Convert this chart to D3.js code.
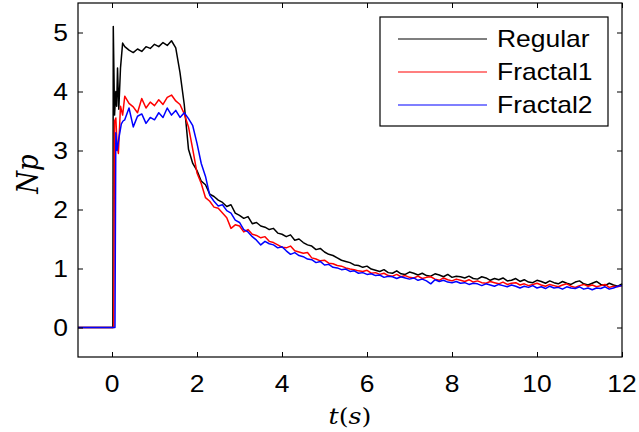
<!DOCTYPE html>
<html>
<head>
<meta charset="utf-8">
<script src="https://cdnjs.cloudflare.com/ajax/libs/d3/7.8.5/d3.min.js"></script>
<style>
  body { margin: 0; background: #fff; }
  text { font-family: "Liberation Sans", Arial, sans-serif; }
</style>
</head>
<body>
<script>
// tick labels
var xTicks = [0, 2, 4, 6, 8, 10, 12];
var yTicks = [0, 1, 2, 3, 4, 5];
var names = ["Regular", "Fractal1", "Fractal2"];
var colors = ["#000000", "#ff0000", "#0000ff"];

// start-up part of each run: [t, Np]
var regularHead = [[-0.8, 0], [0.02, 0], [0.03, 5.1], [0.06, 3.6], [0.09, 4.0], [0.11, 3.75], [0.13, 4.4], [0.16, 3.7], [0.2, 4.4], [0.25, 4.82]];
var fractal1Head = [[-0.8, 0], [0.04, 0], [0.06, 3.5], [0.09, 3.55], [0.12, 3.1], [0.15, 2.95], [0.2, 3.75], [0.25, 3.6]];
var fractal2Head = [[-0.8, 0], [0.07, 0], [0.09, 3.3], [0.12, 3.0], [0.16, 3.2], [0.22, 3.45], [0.26, 3.5]];

// rest of each run, sampled every 0.1 s from t = 0.3 to t = 12.0
var tTail = d3.range(3, 121).map(function (i) { return i / 10; });

var regularTail = [
  4.76, 4.70, 4.66, 4.72, 4.68, 4.76, 4.73, 4.80, 4.76, 4.83,
  4.78, 4.86, 4.74, 4.32, 3.78, 3.02, 2.78, 2.66, 2.48, 2.42,
  2.26, 2.22, 2.16, 2.12, 2.05, 2.08, 1.94, 1.90, 1.85, 1.88,
  1.76, 1.78, 1.72, 1.70, 1.66, 1.68, 1.60, 1.58, 1.54, 1.57,
  1.48, 1.50, 1.44, 1.40, 1.38, 1.32, 1.34, 1.28, 1.24, 1.22,
  1.18, 1.14, 1.12, 1.10, 1.06, 1.05, 1.02, 1.04, 0.99, 0.97,
  0.95, 0.98, 0.93, 0.92, 0.96, 0.91, 0.90, 0.94, 0.92, 0.89,
  0.92, 0.88, 0.87, 0.91, 0.89, 0.86, 0.90, 0.85, 0.87, 0.86,
  0.84, 0.87, 0.83, 0.82, 0.86, 0.84, 0.80, 0.83, 0.81, 0.84,
  0.79, 0.80, 0.83, 0.78, 0.81, 0.77, 0.76, 0.80, 0.78, 0.75,
  0.79, 0.76, 0.74, 0.78, 0.75, 0.73, 0.77, 0.79, 0.74, 0.72,
  0.75, 0.78, 0.73, 0.71, 0.75, 0.72, 0.70, 0.74
];

var fractal1Tail = [
  3.92, 3.80, 3.74, 3.64, 3.88, 3.72, 3.82, 3.76, 3.86, 3.78,
  3.90, 3.94, 3.84, 3.78, 3.62, 3.40, 3.02, 2.62, 2.44, 2.20,
  2.14, 2.04, 2.02, 1.94, 1.86, 1.68, 1.74, 1.72, 1.62, 1.66,
  1.58, 1.56, 1.52, 1.54, 1.46, 1.44, 1.40, 1.36, 1.35, 1.38,
  1.30, 1.28, 1.26, 1.27, 1.18, 1.16, 1.13, 1.14, 1.09, 1.08,
  1.05, 1.04, 1.01, 0.99, 0.98, 0.96, 0.95, 0.97, 0.92, 0.93,
  0.90, 0.92, 0.88, 0.87, 0.90, 0.86, 0.88, 0.85, 0.84, 0.87,
  0.83, 0.85, 0.86, 0.82, 0.80, 0.84, 0.81, 0.79, 0.82, 0.80,
  0.78, 0.81, 0.77, 0.79, 0.76, 0.75, 0.78, 0.76, 0.74, 0.77,
  0.73, 0.75, 0.76, 0.72, 0.74, 0.71, 0.73, 0.75, 0.72, 0.70,
  0.73, 0.71, 0.69, 0.72, 0.74, 0.70, 0.68, 0.71, 0.73, 0.70,
  0.72, 0.69, 0.71, 0.73, 0.68, 0.70, 0.69, 0.71
];

var fractal2Tail = [
  3.52, 3.72, 3.40, 3.58, 3.62, 3.46, 3.56, 3.52, 3.64, 3.56,
  3.72, 3.60, 3.68, 3.56, 3.64, 3.54, 3.42, 3.12, 2.78, 2.56,
  2.24, 2.14, 2.06, 2.08, 1.98, 1.94, 1.82, 1.78, 1.66, 1.62,
  1.54, 1.48, 1.40, 1.46, 1.42, 1.40, 1.35, 1.37, 1.30, 1.24,
  1.27, 1.22, 1.20, 1.16, 1.15, 1.10, 1.12, 1.06, 1.07, 1.02,
  1.01, 0.98, 0.99, 0.95, 0.96, 0.92, 0.93, 0.90, 0.91, 0.88,
  0.89, 0.85, 0.87, 0.86, 0.83, 0.86, 0.84, 0.82, 0.84, 0.80,
  0.82, 0.79, 0.74, 0.81, 0.78, 0.80, 0.77, 0.76, 0.78, 0.75,
  0.76, 0.73, 0.75, 0.74, 0.71, 0.74, 0.72, 0.70, 0.73, 0.71,
  0.69, 0.72, 0.70, 0.67, 0.70, 0.68, 0.71, 0.67, 0.69, 0.66,
  0.70, 0.67, 0.68, 0.65, 0.69, 0.67, 0.66, 0.69, 0.65, 0.67,
  0.64, 0.67, 0.66, 0.69, 0.65, 0.67, 0.70, 0.71
];

var width = 639, height = 432;
var plotLeft = 78, plotRight = 622, plotTop = 3, plotBottom = 357;
var stretch = 1.15; // text in the picture is a bit wider than it is tall

var svg = d3.select("body").append("svg")
    .attr("width", width)
    .attr("height", height);

var x = d3.scaleLinear().domain([-0.8, 12]).range([plotLeft, plotRight]);
var y = d3.scaleLinear().domain([-0.5, 5.5]).range([plotBottom, plotTop]);

function join(head, tail) {
    return head.concat(tail.map(function (v, i) { return [tTail[i], v]; }));
}
var series = [join(regularHead, regularTail), join(fractal1Head, fractal1Tail), join(fractal2Head, fractal2Tail)];

var line = d3.line()
    .x(function (d) { return x(d[0]); })
    .y(function (d) { return y(d[1]); });

svg.append("g").selectAll("path")
    .data(series)
    .enter().append("path")
    .attr("d", line)
    .style("fill", "none")
    .style("stroke", function (d, i) { return colors[i]; })
    .style("stroke-width", 1.5)
    .style("stroke-linejoin", "round");

// box and inward ticks, matlab style
var tick = 5;
svg.append("g").attr("transform", "translate(0," + plotBottom + ")")
    .call(d3.axisBottom(x).tickValues(xTicks).tickSizeInner(-tick).tickSizeOuter(0).tickFormat(""));
svg.append("g").attr("transform", "translate(0," + plotTop + ")")
    .call(d3.axisTop(x).tickValues(xTicks).tickSizeInner(-tick).tickSizeOuter(0).tickFormat(""));
svg.append("g").attr("transform", "translate(" + plotLeft + ",0)")
    .call(d3.axisLeft(y).tickValues(yTicks).tickSizeInner(-tick).tickSizeOuter(0).tickFormat(""));
svg.append("g").attr("transform", "translate(" + plotRight + ",0)")
    .call(d3.axisRight(y).tickValues(yTicks).tickSizeInner(-tick).tickSizeOuter(0).tickFormat(""));
svg.selectAll(".domain").remove();
svg.selectAll(".tick line").attr("stroke", "#000");

svg.append("rect")
    .attr("x", plotLeft).attr("y", plotTop)
    .attr("width", plotRight - plotLeft).attr("height", plotBottom - plotTop)
    .style("fill", "none").style("stroke", "#000").style("stroke-width", 1.2);

// tick labels
svg.append("g").selectAll("text")
    .data(xTicks)
    .enter().append("text")
    .attr("transform", function (d) { return "translate(" + x(d) + ",392) scale(" + stretch + ",1)"; })
    .attr("text-anchor", "middle")
    .style("font-size", "23px")
    .text(function (d) { return d; });

svg.append("g").selectAll("text")
    .data(yTicks)
    .enter().append("text")
    .attr("transform", function (d) { return "translate(68," + (y(d) + 8) + ") scale(" + stretch + ",1)"; })
    .attr("text-anchor", "end")
    .style("font-size", "23px")
    .text(function (d) { return d; });

// axis titles
var xt = svg.append("text")
    .attr("transform", "translate(350,424) scale(" + stretch + ",1)")
    .attr("text-anchor", "middle")
    .style("font-family", "'DejaVu Serif', 'Liberation Serif', serif")
    .style("font-size", "22px");
xt.append("tspan").style("font-style", "italic").text("t");
xt.append("tspan").text("(");
xt.append("tspan").style("font-style", "italic").text("s");
xt.append("tspan").text(")");

svg.append("text")
    .attr("transform", "translate(38,174) rotate(-90) scale(1," + stretch + ")")
    .attr("text-anchor", "middle")
    .style("font-family", "'DejaVu Serif', 'Liberation Serif', serif")
    .style("font-style", "italic")
    .style("font-size", "26px")
    .text("Np");

// legend
var legend = svg.append("g");
legend.append("rect")
    .attr("x", 380).attr("y", 17).attr("width", 228).attr("height", 109)
    .style("fill", "#fff").style("stroke", "#000").style("stroke-width", 1.2);

var rows = legend.selectAll("g.row")
    .data(names)
    .enter().append("g")
    .attr("class", "row")
    .attr("transform", function (d, i) { return "translate(0," + (39 + i * 33) + ")"; });

rows.append("line")
    .attr("x1", 398).attr("x2", 487)
    .style("stroke", function (d, i) { return colors[i]; })
    .style("stroke-width", 1.2);

rows.append("text")
    .attr("transform", "translate(497,8) scale(" + stretch + ",1)")
    .style("font-size", "23px")
    .text(function (d) { return d; });
</script>
</body>
</html>
